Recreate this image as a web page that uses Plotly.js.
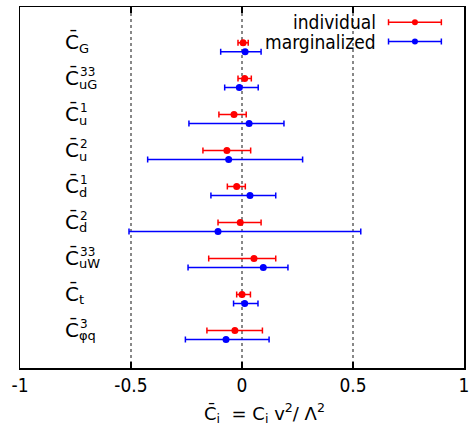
<!DOCTYPE html>
<html><head><meta charset="utf-8">
<script src="https://cdn.plot.ly/plotly-3.0.1.min.js"></script>
<style>body{margin:0;background:#fff}#plot{width:473px;height:429px}</style>
</head><body><div id="plot"></div>
<script>
// Operators (top to bottom)
var opSub = ['G', 'uG', 'u', 'u', 'd', 'd', 'uW', 't', 'φq'];
var opSup = ['', '33', '1', '2', '1', '2', '33', '', '3'];
// individual fits
var indCenter = [0.005, 0.012, -0.036, -0.068, -0.024, -0.008, 0.054, 0.000, -0.032];
var indLow    = [-0.018, -0.018, -0.104, -0.176, -0.066, -0.108, -0.150, -0.024, -0.158];
var indHigh   = [0.028, 0.042, 0.019, 0.039, 0.015, 0.086, 0.152, 0.038, 0.092];
// marginalized fits
var marCenter = [0.014, -0.012, 0.032, -0.060, 0.036, -0.108, 0.096, 0.012, -0.072];
var marLow    = [-0.096, -0.078, -0.239, -0.425, -0.140, -0.509, -0.243, -0.038, -0.255];
var marHigh   = [0.086, 0.073, 0.189, 0.273, 0.152, 0.535, 0.207, 0.072, 0.122];
var xTickVals = [-1, -0.5, 0, 0.5, 1];
var xTickText = ['-1', '-0.5', '0', '0.5', '1'];
var seriesNames = ['individual', 'marginalized'];
var xTitle = 'C\u0304<sub>i</sub>  = C<sub>i</sub> v<sup>2</sup>/ \u039B<sup>2</sup>';

var FONT_C = 'DejaVu Sans Condensed, DejaVu Sans, sans-serif';
var FONT = 'DejaVu Sans, sans-serif';
var rows = opSub.map(function(_, i){ return i; });
var BLUE_OFF = 0.25;

function errTrace(center, lo, hi, color, yoff) {
  return {
    type: 'scatter', mode: 'markers',
    x: center, y: rows.map(function(r){ return r + yoff; }),
    marker: {color: color, size: 7},
    error_x: {type: 'data', symmetric: false,
      array: center.map(function(c, i){ return hi[i] - c; }),
      arrayminus: center.map(function(c, i){ return c - lo[i]; }),
      color: color, thickness: 1.5, width: 3},
    showlegend: false, hoverinfo: 'skip', cliponaxis: false
  };
}

// legend samples (layout positions)
var LEG_X = 0.779, LEG_HALF = 0.119, LEG_Y = [-0.567, -0.028];
function legTrace(color, y) {
  return {type: 'scatter', mode: 'markers', x: [LEG_X], y: [y],
    marker: {color: color, size: 6},
    error_x: {type: 'data', array: [LEG_HALF], color: color, thickness: 1.5, width: 3},
    showlegend: false, hoverinfo: 'skip', cliponaxis: false};
}

var data = [
  errTrace(indCenter, indLow, indHigh, '#ff0000', 0),
  errTrace(marCenter, marLow, marHigh, '#0000ff', BLUE_OFF),
  legTrace('#ff0000', LEG_Y[0]),
  legTrace('#0000ff', LEG_Y[1])
];

var ann = [];
rows.forEach(function(i){
  ann.push({xref: 'x', yref: 'y', x: -0.805, y: i - 0.02, xanchor: 'left', yanchor: 'middle',
    text: 'C\u0304', showarrow: false,
    font: {family: FONT, size: 20, color: '#000'}});
  ann.push({xref: 'x', yref: 'y', x: -0.805, y: i + 0.15, xanchor: 'left', yanchor: 'middle',
    xshift: 14, text: opSub[i], showarrow: false,
    font: {family: FONT, size: 13, color: '#000'}});
  if (opSup[i]) {
    ann.push({xref: 'x', yref: 'y', x: -0.805, y: i - 0.19, xanchor: 'left', yanchor: 'middle',
      xshift: 15, text: opSup[i], showarrow: false,
      font: {family: FONT, size: 12, color: '#000'}});
  }
});
seriesNames.forEach(function(t, k){
  ann.push({xref: 'x', yref: 'y', x: 0.613, y: LEG_Y[k], xanchor: 'right', yanchor: 'middle',
    text: t, showarrow: false, font: {family: FONT_C, size: 19, color: '#000'}});
});
ann.push({xref: 'x', yref: 'paper', x: 0.1, y: 0, yshift: -45, xanchor: 'center', yanchor: 'middle',
  text: xTitle, showarrow: false, font: {family: FONT, size: 18, color: '#000'}});

var layout = {
  width: 473, height: 429,
  margin: {l: 20, r: 9, t: 7, b: 61},
  paper_bgcolor: '#fff', plot_bgcolor: '#fff',
  showlegend: false,
  font: {family: FONT, color: '#000'},
  xaxis: {range: [-1, 1], tickvals: xTickVals, ticktext: xTickText,
    ticks: 'inside', ticklen: 6, tickwidth: 1.5, tickcolor: '#000',
    showgrid: true, gridcolor: '#888', griddash: 'dot', gridwidth: 1.2,
    zeroline: false, showline: true, linecolor: '#000', linewidth: 1.5, mirror: 'ticks',
    tickfont: {family: FONT_C, size: 19, color: '#000'},
    fixedrange: true},
  yaxis: {range: [9.04, -0.99], showticklabels: false, ticks: '', showgrid: false,
    zeroline: false, showline: true, linecolor: '#000', linewidth: 1.5, mirror: true,
    fixedrange: true},
  annotations: ann
};
Plotly.newPlot('plot', data, layout, {displayModeBar: false, staticPlot: true});
</script></body></html>
